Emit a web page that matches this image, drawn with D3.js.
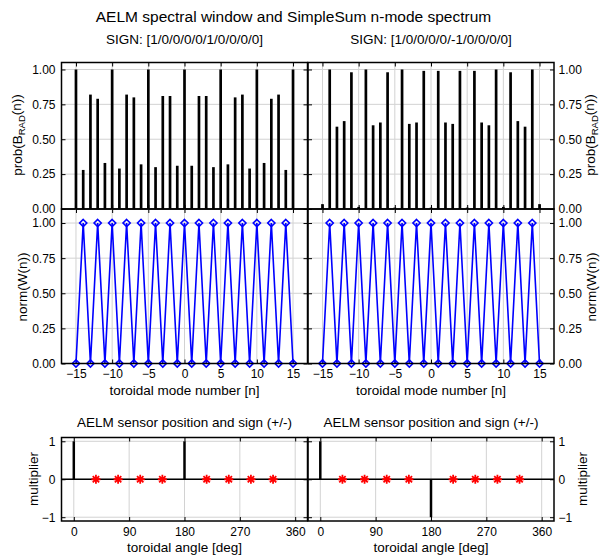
<!DOCTYPE html>
<html>
<head>
<meta charset="utf-8">
<script src="https://cdn.jsdelivr.net/npm/d3@7"></script>
<style>
body { margin: 0; background: #fff; }
svg { font-family: Arial, "Liberation Sans", sans-serif; }
</style>
</head>
<body>
<svg id="chart" width="602" height="555"></svg>
<script>
// toroidal mode numbers n
var modeNumbers = [-15,-14,-13,-12,-11,-10,-9,-8,-7,-6,-5,-4,-3,-2,-1,0,1,2,3,4,5,6,7,8,9,10,11,12,13,14,15];

// prob(B_RAD(n))
var probLeft  = [1.00,0.28,0.82,0.79,0.33, 1.00,0.29,0.82,0.80,0.32, 1.00,0.30,0.81,0.81,0.31,
                 1.00,0.31,0.81,0.81,0.30, 1.00,0.32,0.80,0.82,0.29, 1.00,0.33,0.79,0.82,0.28, 1.00];
var probRight = [0.035,1.00,0.59,0.63,0.98, 0.015,1.00,0.60,0.62,0.98, 0.01,1.00,0.61,0.62,0.99,
                 0.01,0.99,0.62,0.61,0.99, 0.01,0.99,0.62,0.60,1.00, 0.015,0.98,0.63,0.59,1.00, 0.035];

// norm(W(n)) spectral window
var normLeft  = [0,1,0,1,0,1,0,1,0,1,0,1,0,1,0,1,0,1,0,1,0,1,0,1,0,1,0,1,0,1,0];
var normRight = [0,1,0,1,0,1,0,1,0,1,0,1,0,1,0,1,0,1,0,1,0,1,0,1,0,1,0,1,0,1,0];

// sensors
var sensorAngles = [0,36,72,108,144,180,216,252,288,324];
var signLeft  = [1,0,0,0,0,1,0,0,0,0];
var signRight = [1,0,0,0,0,-1,0,0,0,0];

// ticks
var modeTicks  = [-15,-10,-5,0,5,10,15];
var probTicks  = [0,0.25,0.5,0.75,1];
var angleTicks = [0,90,180,270,360];
var multTicks  = [-1,0,1];

var mainTitle = "AELM spectral window and SimpleSum n-mode spectrum";
var signTitles = ["SIGN: [1/0/0/0/0/1/0/0/0/0]", "SIGN: [1/0/0/0/0/-1/0/0/0/0]"];
var sensorTitle = "AELM sensor position and sign (+/-)";

var svg = d3.select("#chart");

var cols = [[61.5, 307.5], [308, 554]];
var rowTop = [209, 62.5];
var rowMid = [363.5, 209];
var rowBot = [521, 437.5];

var tickLen = 4;
var gridColor = "#d2d2d2";

// draws grid, inward ticks on all four sides
function drawFrame(g, x, y, xTicks, yTicks, yFmt, xLabels, side) {
    var xr = x.range(), yr = y.range();
    g.append("g").selectAll("line.vg").data(xTicks).enter().append("line")
        .attr("x1", function(d) { return x(d); }).attr("x2", function(d) { return x(d); })
        .attr("y1", yr[0]).attr("y2", yr[1])
        .style("stroke", gridColor).style("stroke-width", 1);
    g.append("g").selectAll("line.hg").data(yTicks).enter().append("line")
        .attr("x1", xr[0]).attr("x2", xr[1])
        .attr("y1", function(d) { return y(d); }).attr("y2", function(d) { return y(d); })
        .style("stroke", gridColor).style("stroke-width", 1);

    var bottom = d3.axisBottom(x).tickValues(xTicks).tickSizeInner(-tickLen).tickSizeOuter(0).tickPadding(6);
    if (!xLabels) bottom.tickFormat("");
    var top = d3.axisTop(x).tickValues(xTicks).tickSizeInner(-tickLen).tickSizeOuter(0).tickFormat("");
    var left = d3.axisLeft(y).tickValues(yTicks).tickSizeInner(-tickLen).tickSizeOuter(0).tickPadding(6);
    var right = d3.axisRight(y).tickValues(yTicks).tickSizeInner(-tickLen).tickSizeOuter(0).tickPadding(4.5);
    if (side == "left") { left.tickFormat(yFmt); right.tickFormat(""); }
    else { right.tickFormat(yFmt); left.tickFormat(""); }

    var axes = [
        g.append("g").attr("transform", "translate(0," + yr[0] + ")").call(bottom),
        g.append("g").attr("transform", "translate(0," + yr[1] + ")").call(top),
        g.append("g").attr("transform", "translate(" + xr[0] + ",0)").call(left),
        g.append("g").attr("transform", "translate(" + xr[1] + ",0)").call(right)
    ];
    axes.forEach(function(a) {
        a.select(".domain").remove();
        a.selectAll("text").style("font-size", "12px").style("fill", "#000").style("font-family", null);
        a.selectAll("line").style("stroke", "#000");
    });
    return g;
}

function drawBox(g, x, y) {
    var xr = x.range(), yr = y.range();
    g.append("rect")
        .attr("x", xr[0]).attr("y", yr[1])
        .attr("width", xr[1] - xr[0]).attr("height", yr[0] - yr[1])
        .style("fill", "none").style("stroke", "#000").style("stroke-width", 1.5);
}

function yLabel(parts, px, py) {
    var t = svg.append("text")
        .attr("transform", "translate(" + px + "," + py + ") rotate(-90)")
        .attr("text-anchor", "middle")
        .style("font-size", "13.5px");
    parts.forEach(function(p) {
        var s = t.append("tspan").text(p.text);
        if (p.sub) s.attr("dy", "0.35em").style("font-size", "9.5px");
        if (p.back) s.attr("dy", "-0.35em");
    });
}

var fmt2 = d3.format(".2f");
var probs = [probLeft, probRight];
var norms = [normLeft, normRight];
var signs = [signLeft, signRight];
var sides = ["left", "right"];

var diamond = "M0,-3.6L3.6,0L0,3.6L-3.6,0Z";
var asterisk = "M-4.5,0H4.5M0,-4.5V4.5M-3.2,-3.2L3.2,3.2M-3.2,3.2L3.2,-3.2";

for (var c = 0; c < 2; c++) {
    var xn = d3.scaleLinear().domain([-17, 17]).range(cols[c]);
    var yTop = d3.scaleLinear().domain([0, 1.05]).range(rowTop);
    var yMid = d3.scaleLinear().domain([0, 1.1]).range(rowMid);
    var xa = d3.scaleLinear().domain([-20, 380]).range(cols[c]);
    var yBot = d3.scaleLinear().domain([-1.1, 1.1]).range(rowBot);

    // spectrum bars
    var g1 = drawFrame(svg.append("g"), xn, yTop, modeTicks, probTicks, fmt2, false, sides[c]);
    var pr = probs[c];
    g1.selectAll("line.bar").data(modeNumbers).enter().append("line")
        .attr("x1", function(d) { return xn(d); }).attr("x2", function(d) { return xn(d); })
        .attr("y1", yTop(0)).attr("y2", function(d, i) { return yTop(pr[i]); })
        .style("stroke", "#000").style("stroke-width", 2.7);
    drawBox(g1, xn, yTop);

    // spectral window
    var g2 = drawFrame(svg.append("g"), xn, yMid, modeTicks, probTicks, fmt2, true, sides[c]);
    var nw = norms[c];
    var line = d3.line()
        .x(function(d) { return xn(d); })
        .y(function(d, i) { return yMid(nw[i]); });
    g2.append("path").datum(modeNumbers).attr("d", line)
        .style("fill", "none").style("stroke", "#0000ff").style("stroke-width", 1.6);
    g2.selectAll("path.mk").data(modeNumbers).enter().append("path")
        .attr("d", diamond)
        .attr("transform", function(d, i) { return "translate(" + xn(d) + "," + yMid(nw[i]) + ")"; })
        .style("fill", "none").style("stroke", "#0000ff").style("stroke-width", 1.6);
    drawBox(g2, xn, yMid);

    // sensor positions
    var g3 = drawFrame(svg.append("g"), xa, yBot, angleTicks, multTicks, d3.format("d"), true, sides[c]);
    var sg = signs[c];
    g3.append("line")
        .attr("x1", cols[c][0]).attr("x2", cols[c][1])
        .attr("y1", yBot(0)).attr("y2", yBot(0))
        .style("stroke", "#000").style("stroke-width", 1.6);
    g3.selectAll("line.stem").data(sensorAngles.filter(function(d, i) { return sg[i] != 0; })).enter().append("line")
        .attr("x1", function(d) { return xa(d); }).attr("x2", function(d) { return xa(d); })
        .attr("y1", yBot(0)).attr("y2", function(d) { return yBot(sg[sensorAngles.indexOf(d)]); })
        .style("stroke", "#000").style("stroke-width", 2.5);
    g3.selectAll("path.ast").data(sensorAngles.filter(function(d, i) { return sg[i] == 0; })).enter().append("path")
        .attr("d", asterisk)
        .attr("transform", function(d) { return "translate(" + xa(d) + "," + yBot(0) + ")"; })
        .style("fill", "none").style("stroke", "#ff0000").style("stroke-width", 1.8);
    drawBox(g3, xa, yBot);

    var cx = (cols[c][0] + cols[c][1]) / 2;
    svg.append("text").attr("x", cx).attr("y", 43.5).attr("text-anchor", "middle")
        .style("font-size", "13.5px").text(signTitles[c]);
    svg.append("text").attr("x", cx).attr("y", 395).attr("text-anchor", "middle")
        .style("font-size", "13.5px").text("toroidal mode number [n]");
    svg.append("text").attr("x", cx).attr("y", 427).attr("text-anchor", "middle")
        .style("font-size", "13.5px").text(sensorTitle);
    svg.append("text").attr("x", cx).attr("y", 552).attr("text-anchor", "middle")
        .style("font-size", "13.5px").text("toroidal angle [deg]");
}

svg.append("text").attr("x", 293.5).attr("y", 21.7).attr("text-anchor", "middle")
    .style("font-size", "15.5px").text(mainTitle);

var probParts = [{text: "prob(B"}, {text: "RAD", sub: true}, {text: "(n))", back: true}];
yLabel(probParts, 22, 135);
yLabel(probParts, 595, 135);
yLabel([{text: "norm(W(n))"}], 27, 287);
yLabel([{text: "norm(W(n))"}], 596, 287);
yLabel([{text: "multiplier"}], 38, 479);
yLabel([{text: "multiplier"}], 586.5, 479);
</script>
</body>
</html>
